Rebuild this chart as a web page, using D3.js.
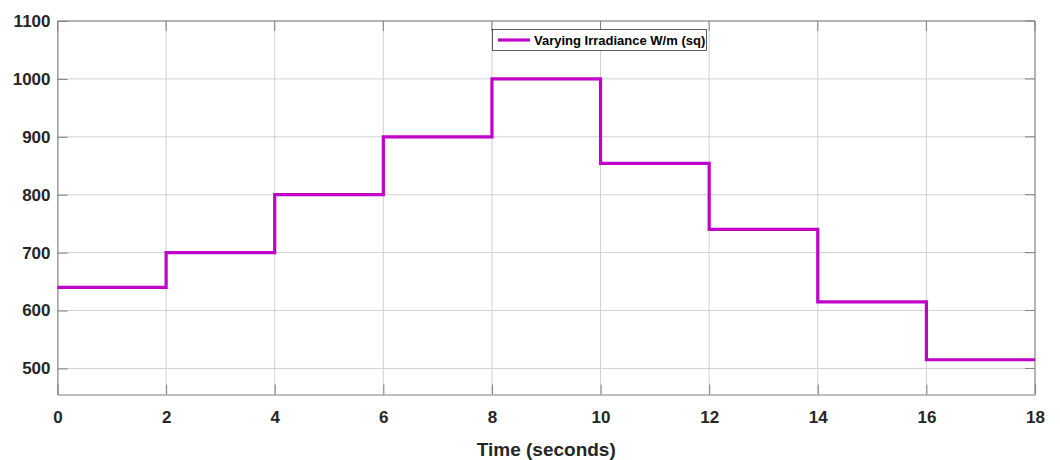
<!DOCTYPE html>
<html><head><meta charset="utf-8">
<script src="https://cdn.jsdelivr.net/npm/d3@7"></script>
<style>body{margin:0;background:#fff}</style>
</head><body>
<svg id="c" width="1060" height="460"></svg>
<script>
const stepStarts = [0, 2, 4, 6, 8, 10, 12, 14, 16];
const irradiance = [640, 700, 800, 900, 1000, 854, 740, 615, 515];
const xEnd = 18;
const xTicks = [0, 2, 4, 6, 8, 10, 12, 14, 16, 18];
const yTicks = [500, 600, 700, 800, 900, 1000, 1100];
const seriesName = "Varying Irradiance W/m (sq)";
const xLabel = "Time (seconds)";

const svg = d3.select("#c");
const L = 57.5, R = 1035, T = 21, B = 394.5;
const x = d3.scaleLinear().domain([0, 18]).range([L, R]);
const y = d3.scaleLinear().domain([455, 1100]).range([B, T]);
const font = "Arial, 'Liberation Sans', sans-serif";

// grid
svg.append("g").selectAll("line").data(xTicks).join("line")
  .attr("x1", d => x(d)).attr("x2", d => x(d)).attr("y1", T).attr("y2", B)
  .attr("stroke", "#d0d0d0").attr("stroke-width", 1);
svg.append("g").selectAll("line").data(yTicks).join("line")
  .attr("y1", d => y(d)).attr("y2", d => y(d)).attr("x1", L).attr("x2", R)
  .attr("stroke", "#d0d0d0").attr("stroke-width", 1);

// axes
const xAx = svg.append("g").attr("transform", `translate(0,${B})`)
  .call(d3.axisBottom(x).tickValues(xTicks).tickFormat(d3.format("d")).tickSizeInner(-10).tickSizeOuter(0).tickPadding(16));
const yAx = svg.append("g").attr("transform", `translate(${L},0)`)
  .call(d3.axisLeft(y).tickValues(yTicks).tickFormat(d3.format("d")).tickSizeInner(-10).tickSizeOuter(0).tickPadding(7));
[xAx, yAx].forEach(a => {
  a.select(".domain").attr("stroke", "#808080");
  a.selectAll(".tick line").attr("stroke", "#808080");
  a.selectAll("text").attr("fill", "#262626").attr("font-family", font)
    .attr("font-size", 17).attr("font-weight", "bold");
});
// top and right border
svg.append("line").attr("x1", L).attr("x2", R).attr("y1", T).attr("y2", T).attr("stroke", "#808080");
svg.append("line").attr("x1", R).attr("x2", R).attr("y1", T).attr("y2", B).attr("stroke", "#808080");
// right-side ticks
svg.append("g").selectAll("line").data(yTicks).join("line")
  .attr("x1", R).attr("x2", R - 10).attr("y1", d => y(d)).attr("y2", d => y(d)).attr("stroke", "#808080");
svg.append("g").selectAll("line").data(xTicks).join("line")
  .attr("y1", T).attr("y2", T + 10).attr("x1", d => x(d)).attr("x2", d => x(d)).attr("stroke", "#808080");

// step line
const pts = stepStarts.map((s, i) => [s, irradiance[i]]);
pts.push([xEnd, irradiance[irradiance.length - 1]]);
svg.append("path").datum(pts)
  .attr("d", d3.line().x(d => x(d[0])).y(d => y(d[1])).curve(d3.curveStepAfter))
  .attr("fill", "none").attr("stroke", "#c000c8").attr("stroke-width", 3.2);

// legend
const lg = svg.append("g");
lg.append("rect").attr("x", 492.5).attr("y", 29.5).attr("width", 214).attr("height", 21)
  .attr("fill", "#fff").attr("stroke", "#333").attr("stroke-width", 0.8);
lg.append("line").attr("x1", 498).attr("x2", 530).attr("y1", 40).attr("y2", 40)
  .attr("stroke", "#c000c8").attr("stroke-width", 3.2);
lg.append("text").attr("x", 534).attr("y", 45).text(seriesName)
  .attr("font-family", font).attr("font-size", 13).attr("font-weight", "bold").attr("fill", "#000");

// x label
svg.append("text").attr("x", x(9)).attr("y", 456).attr("text-anchor", "middle").text(xLabel)
  .attr("font-family", font).attr("font-size", 19).attr("font-weight", "bold").attr("fill", "#262626");
</script>
</body></html>
